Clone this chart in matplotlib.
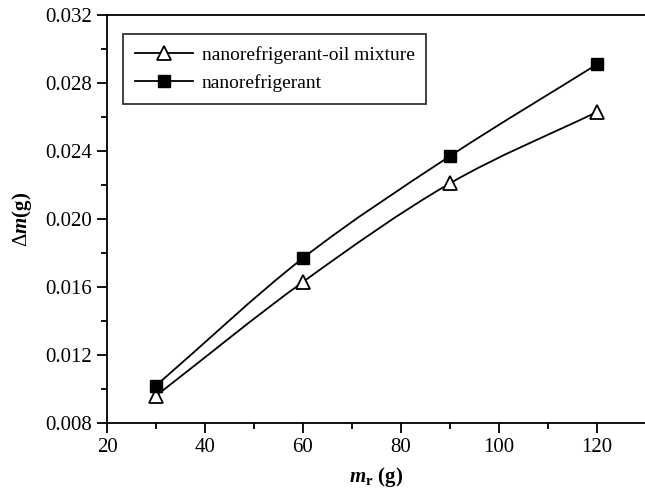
import matplotlib
matplotlib.use("Agg")
from matplotlib import pyplot as plt
from matplotlib.path import Path
from matplotlib.patches import PathPatch
from matplotlib.ticker import MultipleLocator
import numpy as np

plt.rcParams['font.family'] = ['Liberation Serif', 'DejaVu Serif']
plt.rcParams['mathtext.fontset'] = 'custom'
plt.rcParams['mathtext.rm'] = 'Liberation Serif'
plt.rcParams['mathtext.it'] = 'Liberation Serif:italic'
plt.rcParams['mathtext.bf'] = 'Liberation Serif:bold'
plt.rcParams['mathtext.bfit'] = 'Liberation Serif:bold:italic'

# refrigerant charge (g)
mr = [30, 60, 90, 120]
# mass difference (g)
dm_oil = [0.0096, 0.0163, 0.0221, 0.0263]
dm_nano = [0.0102, 0.0177, 0.0237, 0.0291]


def smooth_path(xs, ys):
    # catmull-rom style bezier through the points
    xs = np.asarray(xs, float)
    ys = np.asarray(ys, float)
    px = np.concatenate([[2 * xs[0] - xs[1]], xs, [2 * xs[-1] - xs[-2]]])
    py = np.concatenate([[2 * ys[0] - ys[1]], ys, [2 * ys[-1] - ys[-2]]])
    verts = [(xs[0], ys[0])]
    codes = [Path.MOVETO]
    for i in range(1, len(px) - 2):
        c1 = (px[i] + (px[i + 1] - px[i - 1]) / 6, py[i] + (py[i + 1] - py[i - 1]) / 6)
        c2 = (px[i + 1] - (px[i + 2] - px[i]) / 6, py[i + 1] - (py[i + 2] - py[i]) / 6)
        verts += [c1, c2, (px[i + 1], py[i + 1])]
        codes += [Path.CURVE4] * 3
    return Path(verts, codes)


fig = plt.figure(figsize=(6.45, 4.96), dpi=100)
ax = fig.add_axes([107 / 645, 73 / 496, 539 / 645, 408 / 496])

for ys in (dm_oil, dm_nano):
    ax.add_patch(PathPatch(smooth_path(mr, ys), facecolor='none', edgecolor='black', lw=1.3, zorder=2))

ax.plot(mr, dm_oil, ls='none', marker='^', ms=10.5, mfc='white', mec='black', mew=1.3, zorder=3)
ax.plot(mr, dm_nano, ls='none', marker='s', ms=9, mfc='black', mec='black', zorder=3)

# legend handles
ax.plot([], [], '-', color='black', lw=1.3, marker='^', ms=10.5, mfc='white', mec='black', mew=1.3,
        label='nanorefrigerant-oil mixture')
ax.plot([], [], '-', color='black', lw=1.3, marker='s', ms=9, mfc='black', mec='black',
        label='nanorefrigerant')

ax.set_xlim(20, 130)
ax.set_ylim(0.008, 0.032)
ax.xaxis.set_major_locator(MultipleLocator(20))
ax.xaxis.set_minor_locator(MultipleLocator(10))
ax.yaxis.set_major_locator(MultipleLocator(0.004))
ax.yaxis.set_minor_locator(MultipleLocator(0.002))
ax.set_yticklabels([f'{v:.3f}' for v in ax.get_yticks()])
ax.tick_params(which='both', direction='out', width=1.3, labelsize=15, top=False, right=False)
ax.tick_params(which='major', length=7)
ax.tick_params(which='minor', length=4)
ax.spines['right'].set_visible(False)
for s in ('left', 'bottom', 'top'):
    ax.spines[s].set_linewidth(1.3)

ax.set_xlabel(r'$\mathbfit{m}_{\mathbf{r}}$ (g)', fontsize=15, fontweight='bold', labelpad=6)
ax.set_ylabel(r'$\Delta\mathbfit{m}$(g)', fontsize=15, fontweight='bold', labelpad=8)

leg = ax.legend(loc='upper left', bbox_to_anchor=(0.03, 0.953), borderaxespad=0, fontsize=14,
                frameon=True, fancybox=False, edgecolor='black', handlelength=3.0, borderpad=0.6,
                labelspacing=0.55, handletextpad=0.45)
leg.get_frame().set_linewidth(1.3)

fig.savefig('out.png', dpi=100)
